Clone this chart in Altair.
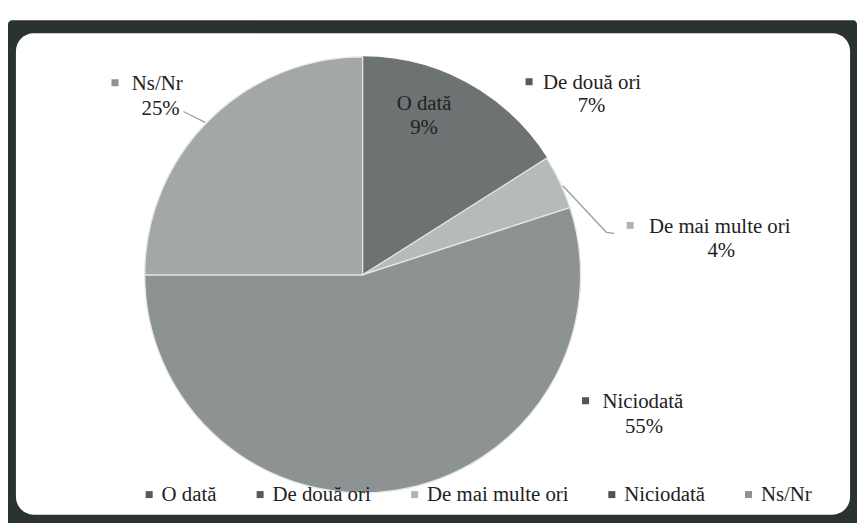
import altair as alt
import pandas as pd

# ---- data ----
categories = ["O dată", "De două ori", "De mai multe ori", "Niciodată", "Ns/Nr"]
values = [9, 7, 4, 55, 25]
pct_labels = ["9%", "7%", "4%", "55%", "25%"]
slice_colors = ["#6d7272", "#6d7272", "#b6bbba", "#8d9393", "#a3a8a7"]
stroke_colors = ["#6d7272", "#6d7272", "#e4e8e6", "#e4e8e6", "#e4e8e6"]
legend_colors = ["#555a5a", "#555a5a", "#b0b4b3", "#4f5454", "#8e9393"]

df = pd.DataFrame({"cat": categories, "val": values, "ord": list(range(len(categories)))})

# ---- layout (chart pixel coordinates) ----
OFF = 8
CX, CY, R = 366 - OFF, 275 - OFF, 220
FONT = "'Liberation Serif', 'Times New Roman', Times, serif"
FS = 21

name_pos = {
    "O dată": (428, 103, "center"),
    "De două ori": (548, 81, "left"),
    "De mai multe ori": (655, 227, "left"),
    "Niciodată": (608, 403, "left"),
    "Ns/Nr": (133, 82, "left"),
}
pct_pos = {
    "O dată": (428, 127),
    "De două ori": (597, 105),
    "De mai multe ori": (728, 251),
    "Niciodată": (650, 429),
    "Ns/Nr": (162, 108),
}
marker_pos = {
    "De două ori": (534, 80),
    "De mai multe ori": (636, 225),
    "Niciodată": (591, 402),
    "Ns/Nr": (116, 81),
}
leaders = {
    "De mai multe ori": [(568, 185), (612, 232), (620, 233)],
    "Ns/Nr": [(185, 110), (207, 121)],
}

rows = []
for c, p in zip(categories, pct_labels):
    x, y, a = name_pos[c]
    rows.append({"cat": c, "txt": c, "px": x - OFF, "py": y - OFF, "al": a})
    x2, y2 = pct_pos[c]
    rows.append({"cat": c, "txt": p, "px": x2 - OFF, "py": y2 - OFF, "al": "center"})
lab = pd.DataFrame(rows)

mk = pd.DataFrame([{"cat": c, "px": x - OFF, "py": y - OFF} for c, (x, y) in marker_pos.items()])
ld = pd.DataFrame([{"g": g, "i": i, "px": x - OFF, "py": y - OFF}
                   for g, pts in leaders.items() for i, (x, y) in enumerate(pts)])

W, H = 857, 515

frame_outer = alt.Chart(alt.Data(values=[{}])).mark_rect(
    fill="#2b3330", cornerRadius=4
).encode(x=alt.value(0), x2=alt.value(W), y=alt.value(10), y2=alt.value(530))

frame_inner = alt.Chart(alt.Data(values=[{}])).mark_rect(
    fill="white", cornerRadius=18
).encode(x=alt.value(16 - OFF), x2=alt.value(858 - OFF), y=alt.value(31 - OFF), y2=alt.value(517 - OFF))

pie = alt.Chart(df).mark_arc(outerRadius=R, strokeWidth=1.3).encode(
    theta=alt.Theta("val:Q", stack=True),
    color=alt.Color("cat:N", scale=alt.Scale(domain=categories, range=slice_colors), legend=None),
    stroke=alt.Stroke("cat:N", scale=alt.Scale(domain=categories, range=stroke_colors), legend=None),
    order=alt.Order("ord:Q"),
    x=alt.value(CX),
    y=alt.value(CY),
)

legend_layer = alt.Chart(df).mark_point(opacity=0).encode(
    x=alt.value(-50), y=alt.value(-50),
    fill=alt.Fill(
        "cat:N",
        scale=alt.Scale(domain=categories, range=legend_colors),
        sort=categories,
        legend=alt.Legend(
            title=None,
            orient="none",
            direction="horizontal",
            legendX=140 - OFF,
            legendY=486 - OFF,
            symbolType="square",
            symbolSize=50,
            symbolStrokeWidth=0,
            symbolOpacity=1,
            labelFont=FONT,
            labelFontSize=FS,
            labelColor="#222222",
            labelOffset=2,
            columnPadding=33,
            labelLimit=300,
        ),
    ),
)

leader_lines = alt.Chart(ld).mark_line(color="#9aa09f", strokeWidth=1.3).encode(
    x=alt.X("px:Q", scale=None),
    y=alt.Y("py:Q", scale=None),
    detail="g:N",
    order="i:Q",
)

markers = alt.Chart(mk).mark_square(size=50, opacity=1).encode(
    x=alt.X("px:Q", scale=None),
    y=alt.Y("py:Q", scale=None),
    fill=alt.Fill("cat:N", scale=alt.Scale(domain=categories, range=legend_colors), legend=None),
)

texts_left = alt.Chart(lab[lab.al == "left"]).mark_text(
    font=FONT, fontSize=FS, color="#222222", align="left", baseline="middle"
).encode(x=alt.X("px:Q", scale=None), y=alt.Y("py:Q", scale=None), text="txt:N")

texts_center = alt.Chart(lab[lab.al == "center"]).mark_text(
    font=FONT, fontSize=FS, color="#222222", align="center", baseline="middle"
).encode(x=alt.X("px:Q", scale=None), y=alt.Y("py:Q", scale=None), text="txt:N")

chart = alt.layer(
    frame_outer, frame_inner, pie, legend_layer, leader_lines, markers, texts_left, texts_center
).resolve_scale(fill="independent", stroke="independent").properties(
    width=W, height=H, background="white", padding=0,
    autosize=alt.AutoSizeParams(type="none"),
).configure_view(stroke=None)

chart.save("out.html", embed_options={"renderer": "svg", "actions": False})
